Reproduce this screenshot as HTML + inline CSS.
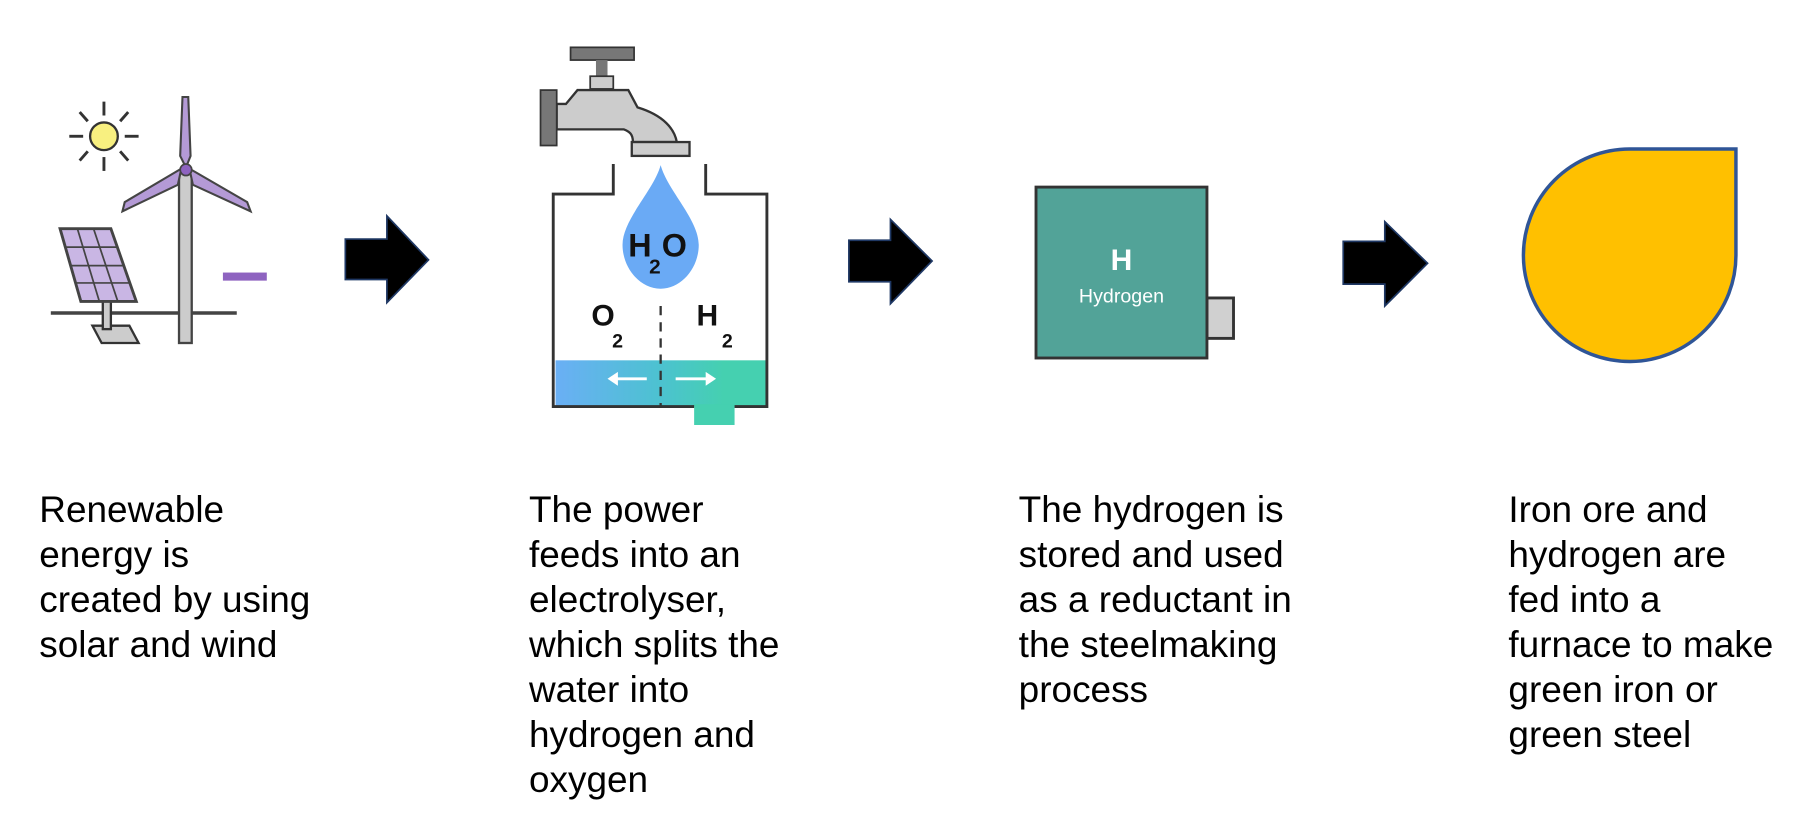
<!DOCTYPE html>
<html><head><meta charset="utf-8"><style>
html,body{margin:0;padding:0;background:#fff;width:1811px;height:824px;overflow:hidden}
svg{display:block}
text{font-family:"Liberation Sans",Arial,sans-serif}
</style></head><body>
<svg width="1811" height="824" viewBox="0 0 1568 713.5" preserveAspectRatio="none" xmlns="http://www.w3.org/2000/svg">
<defs>
<linearGradient id="wg" x1="0" x2="1" y1="0" y2="0">
<stop offset="0" stop-color="#6aaff5"/><stop offset="0.5" stop-color="#4cc2d0"/><stop offset="0.8" stop-color="#45d0b0"/><stop offset="1" stop-color="#45d0b0"/>
</linearGradient>
</defs>
<g stroke="#333" stroke-width="2.5">
<line x1="90" y1="88" x2="90" y2="100"/><line x1="90" y1="136" x2="90" y2="148"/>
<line x1="60" y1="118" x2="72" y2="118"/><line x1="108" y1="118" x2="120" y2="118"/>
<line x1="69" y1="97" x2="76" y2="105"/><line x1="111" y1="97" x2="104" y2="105"/>
<line x1="69" y1="139" x2="76" y2="131"/><line x1="111" y1="139" x2="104" y2="131"/>
</g>
<ellipse cx="90" cy="118" rx="12" ry="12" fill="#f8f080" stroke="#333" stroke-width="2"/>
<line x1="44" y1="271" x2="205" y2="271" stroke="#444" stroke-width="3"/>
<polygon points="80,282 112,282 120,297 88,297" fill="#ccc" stroke="#333" stroke-width="2"/>
<rect x="89" y="260" width="7" height="25" fill="#ccc" stroke="#333" stroke-width="2"/>
<polygon points="52,198 96,198 118,261 70,261" fill="#c9b6e4" stroke="#444" stroke-width="2.5"/>
<g stroke="#444" stroke-width="1.5">
<line x1="67" y1="198" x2="86" y2="261"/><line x1="81" y1="198" x2="102" y2="261"/>
<line x1="56" y1="214" x2="101" y2="214"/><line x1="61" y1="230" x2="107" y2="230"/><line x1="65" y1="245" x2="112" y2="245"/>
</g>
<rect x="155" y="150" width="11" height="147" fill="#ccc" stroke="#444" stroke-width="2"/>
<polygon points="158,84 163,84 165,135 161,145 156,135" fill="#b49ad6" stroke="#444" stroke-width="1.8"/>
<polygon points="157,146 108,175 106,183 154,160" fill="#b49ad6" stroke="#444" stroke-width="1.8"/>
<polygon points="164,146 214,175 217,183 167,160" fill="#b49ad6" stroke="#444" stroke-width="1.8"/>
<circle cx="161" cy="147" r="5" fill="#8e63c0" stroke="#444" stroke-width="1.5"/>
<rect x="193" y="236" width="38" height="7" fill="#8e63c0"/>
<g fill="#000" stroke="#1f3864" stroke-width="1.5">
<polygon points="299,207 335,207 335,187 371,225 335,262 335,242 299,242"/>
<polygon points="735,208 771,208 771,190 807,226 771,263 771,244 735,244"/>
<polygon points="1163,209 1199,209 1199,192 1236,228 1199,265 1199,246 1163,246"/>
</g>
<rect x="494" y="41" width="55" height="11" fill="#777" stroke="#333" stroke-width="1.5"/>
<rect x="516" y="52" width="10" height="14" fill="#777"/>
<rect x="511" y="66" width="20" height="11" fill="#ccc" stroke="#333" stroke-width="1.5"/>
<path d="M482,90 L490,90 L500,78 L544,78 L552,93 C575,100 584,112 586,123 L548,123 C548,116 545,114 540,112 L482,112 Z" fill="#ccc" stroke="#333" stroke-width="2"/>
<rect x="468" y="78" width="14" height="48" fill="#777" stroke="#333" stroke-width="1.5"/>
<rect x="547" y="123" width="50" height="12" fill="#ccc" stroke="#333" stroke-width="2"/>
<rect x="481" y="312" width="182" height="40" fill="url(#wg)"/>
<rect x="601" y="350" width="35" height="18" fill="#45d0b0"/>
<path d="M531,142 V168 H479 V352 H601 M636,352 H664 V168 H611 V142" fill="none" stroke="#333" stroke-width="2.5"/>
<line x1="572" y1="265" x2="572" y2="352" stroke="#333" stroke-width="2" stroke-dasharray="8,6"/>
<g stroke="#fff" stroke-width="2.5" fill="#fff">
<line x1="530" y1="328" x2="560" y2="328"/><polygon points="526,328 535,322 535,334" stroke="none"/>
<line x1="585" y1="328" x2="615" y2="328"/><polygon points="620,328 611,322 611,334" stroke="none"/>
</g>
<path d="M572,143 C566,165 539,190 539,212 C539,232 554,250 572,250 C590,250 605,232 605,212 C605,190 578,165 572,143 Z" fill="#6aaaf5"/>
<text x="544" y="222" font-size="28" font-weight="bold" fill="#111">H</text>
<text x="562" y="237" font-size="18" font-weight="bold" fill="#111">2</text>
<text x="573" y="222" font-size="28" font-weight="bold" fill="#111">O</text>
<text x="512" y="282" font-size="26" font-weight="bold" fill="#111">O</text>
<text x="530" y="301" font-size="17" font-weight="bold" fill="#111">2</text>
<text x="603" y="282" font-size="26" font-weight="bold" fill="#111">H</text>
<text x="625" y="301" font-size="17" font-weight="bold" fill="#111">2</text>
<rect x="1045" y="258" width="23" height="35" fill="#d0d0d0" stroke="#333" stroke-width="2.5"/>
<rect x="897" y="162" width="148" height="148" fill="#52a398" stroke="#333" stroke-width="2.5"/>
<text x="971" y="234" font-size="26" font-weight="bold" fill="#fff" text-anchor="middle">H</text>
<text x="971" y="262" font-size="17" fill="#fff" text-anchor="middle">Hydrogen</text>
<path d="M1411,129 L1503,129 L1503,220 A92,92 0 1 1 1411,129 Z" fill="#ffc000" stroke="#2f5597" stroke-width="3"/>
<g font-size="32" fill="#000">
<text x="34" y="452">Renewable</text>
<text x="34" y="491">energy is</text>
<text x="34" y="530">created by using</text>
<text x="34" y="569">solar and wind</text>
<text x="458" y="452">The power</text>
<text x="458" y="491">feeds into an</text>
<text x="458" y="530">electrolyser,</text>
<text x="458" y="569">which splits the</text>
<text x="458" y="608">water into</text>
<text x="458" y="647">hydrogen and</text>
<text x="458" y="686">oxygen</text>
<text x="882" y="452">The hydrogen is</text>
<text x="882" y="491">stored and used</text>
<text x="882" y="530">as a reductant in</text>
<text x="882" y="569">the steelmaking</text>
<text x="882" y="608">process</text>
<text x="1306" y="452">Iron ore and</text>
<text x="1306" y="491">hydrogen are</text>
<text x="1306" y="530">fed into a</text>
<text x="1306" y="569">furnace to make</text>
<text x="1306" y="608">green iron or</text>
<text x="1306" y="647">green steel</text>
</g>
</svg>
</body></html>
